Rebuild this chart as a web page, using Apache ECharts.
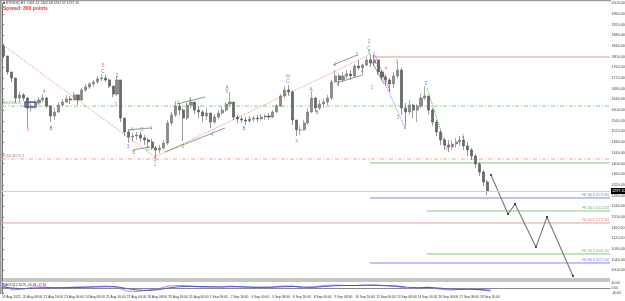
<!DOCTYPE html>
<html><head><meta charset="utf-8">
<script src="https://cdn.jsdelivr.net/npm/echarts@6/dist/echarts.min.js"></script>
<style>html,body{margin:0;padding:0;background:#fff}#c{width:625px;height:301px}</style>
</head><body><div id="c"></div>
<script>
// ---------- DATA (ETHUSD, 6-hour buckets from 19 Aug 2022 00:00) ----------
const firstOpen = 1840;
const highs = [1848,1795,1743,1720,1668,1664,1649,1627,1638,1649,
1660,1649,1619,1608,1630,1642,1657,1653,1668,1660,
1683,1698,1705,1713,1728,1735,1732,1717,1690,1728,
1713,1570,1526,1514,1518,1518,1507,1496,1492,1466,
1469,1488,1563,1593,1634,1627,1608,1630,1645,1630,
1615,1600,1608,1589,1585,1600,1612,1630,1668,1627,
1582,1578,1574,1578,1578,1582,1585,1585,1589,1600,
1623,1660,1690,1694,1675,1563,1541,1563,1608,1672,
1649,1638,1642,1657,1713,1750,1735,1743,1750,1750,
1773,1788,1773,1799,1810,1810,1788,1750,1735,1720,
1743,1780,1758,1627,1638,1623,1623,1660,1690,1653,
1608,1563,1526,1496,1488,1488,1496,1503,1503,1481,
1458,1436,1406,1376,1338];
const lows = [1795,1732,1705,1627,1630,1634,1537,1593,1604,1619,
1630,1608,1555,1563,1589,1612,1627,1623,1638,1619,
1634,1668,1679,1687,1698,1709,1705,1683,1649,1653,
1555,1503,1477,1481,1488,1481,1469,1458,1451,1424,
1439,1451,1469,1541,1574,1582,1484,1563,1608,1585,
1570,1555,1563,1533,1548,1567,1582,1593,1615,1563,
1552,1552,1544,1552,1555,1555,1559,1563,1563,1570,
1589,1612,1645,1653,1544,1503,1507,1522,1544,1589,
1593,1600,1608,1619,1638,1705,1690,1705,1717,1713,
1720,1750,1735,1765,1761,1765,1732,1713,1690,1668,
1683,1720,1582,1544,1582,1570,1555,1608,1638,1582,
1541,1503,1469,1451,1443,1451,1458,1466,1451,1428,
1413,1383,1353,1316,1282];
const closes = [1803,1743,1720,1645,1657,1645,1608,1615,1627,1638,
1645,1615,1578,1593,1619,1630,1642,1638,1657,1638,
1675,1687,1698,1705,1717,1720,1713,1690,1660,1713,
1570,1518,1499,1503,1507,1496,1488,1481,1458,1451,
1458,1477,1552,1582,1615,1600,1570,1619,1630,1600,
1593,1578,1589,1555,1574,1589,1600,1623,1630,1574,
1567,1563,1559,1567,1570,1567,1574,1578,1574,1593,
1615,1653,1675,1668,1563,1526,1526,1552,1593,1645,
1608,1623,1630,1645,1705,1728,1713,1728,1735,1728,
1765,1758,1769,1788,1776,1788,1743,1724,1713,1698,
1728,1750,1608,1593,1619,1600,1615,1645,1653,1600,
1555,1518,1488,1469,1462,1473,1481,1488,1466,1451,
1428,1398,1368,1331,1297.1];

const dateLabels = ['19 Aug 2022','20 Aug 08:00','21 Aug 16:00','23 Aug 00:00','24 Aug 08:00','25 Aug 16:00',
'27 Aug 00:00','28 Aug 08:00','29 Aug 16:00','31 Aug 00:00','1 Sep 08:00','2 Sep 16:00','4 Sep 00:00',
'5 Sep 08:00','6 Sep 16:00','8 Sep 00:00','9 Sep 08:00','10 Sep 16:00','12 Sep 00:00','13 Sep 08:00',
'14 Sep 16:00','16 Sep 00:00','17 Sep 08:00','18 Sep 16:00'];

// horizontal levels: [start hour, price, tag]
const levelStarts = [0, 0, 0, 571, 566.5, 654, 654, 566.5, 566.5];
const levelPrices = [1615.0, 1416.9, 1177.3, 1799.0, 1271.0, 1222.2, 1061.2, 1027.5, 1402.0];
const levelTags   = ['BHC', 'HCS', 'FE 100.0', '', 'FE 161.8', 'FE 100.0', 'FE 161.8', 'FE 261.8', ''];

// drawn lines (hour, price)
const zigzagLine = [[1.5,1844],[235.5,1424.4],[565,1806]];
const channelLines = [
  [[194,1526],[228,1533]], [[201.7,1451],[228,1462]],
  [[269.4,1623],[312.5,1649]], [[251,1443],[343.3,1533]],
  [[509.5,1769],[546.5,1806]], [[515.7,1702],[555.7,1732]],
  [[566.5,1795],[588,1698]]
];
const purpleDotLine = [[571,1803],[620.4,1533]];
const pinkLine = [[574.2,1806],[597.3,1675]];
const greenDotLine = [[654.2,1683],[685,1451]];
const projection = [[752.8,1357],[779,1211],[789.8,1248],[822,1087],[839,1200],[879,979]];
const boxCorners = [[35.4,1630],[52.3,1612]];

// wave labels: [hour, price, text, degree]
const waveLabels = [
  [40,1526,'5','r'],[155.5,1765,'5','r'],[235.5,1394,'1','r'],[440.3,1724,'W','r'],[454,1481,'X','r'],[565,1855,'2','r'],[709.7,1499,'2','r'],
  [64.7,1668,'4','b'],[75.4,1529,'B','b'],[155.5,1743,'C','b'],[177,1728,'2','b'],[175.5,1619,'1','b'],[194,1462,'3','b'],
  [229.4,1529,'4','b'],[235.5,1413,'5','b'],[346.4,1683,'A','b'],[372.5,1529,'B','b'],[440.3,1705,'C','b'],[475.7,1675,'A','b'],
  [485,1589,'B','b'],[565,1829,'C','b'],[620.4,1533,'3','b'],[652.7,1698,'2','b'],
  [200,1526,'A','g'],[215.5,1526,'C','g'],[203,1439,'B','g'],[224.7,1451,'D','g'],
  [271,1627,'1','g'],[278.6,1462,'2','g'],[289.4,1638,'3','g'],[323.3,1507,'4','g'],[346.4,1668,'5','g'],
  [512.6,1769,'1','g'],[517.2,1698,'2','g'],[546.5,1806,'3','g'],[554.2,1743,'4','g'],[565,1814,'5','g'],
  [608,1780,'3','g'],[615.8,1642,'4','g'],[609.6,1570,'2','g'],
  [569.6,1683,'1','m'],[572.7,1806,'2','m'],[591,1754,'4','m'],[595.8,1675,'3','m'],[686.6,1458,'1','m']
];

// oscillator (one value every 16 hours)
const oscStepHours = 16;
const oscFast = [24,-16,-8,8,8,0,4,8,8,12,16,8,-24,-28,-16,-8,16,20,16,8,8,8,16,8,4,4,8,16,16,0,8,20,24,20,20,24,24,16,12,-4,0,8,-8,-16,-12,-8,-16,-24];
const oscSlow = [8,0,-6,-2,2,2,2,4,6,8,10,10,-4,-16,-20,-14,0,10,14,12,10,8,10,10,8,6,6,10,12,8,6,12,18,20,20,22,22,20,16,6,2,4,0,-8,-10,-10,-12,-18];

// ---------- BUILD ----------
const NCAT = 156, HMAX = 936;
const cats = []; for (let i = 0; i < NCAT; i++) cats.push('c' + i);
const candles = closes.map((c, i) => {
  const o = i === 0 ? firstOpen : closes[i - 1];
  return [o, c, Math.min(lows[i], o, c), Math.max(highs[i], o, c)];
});
const lastPrice = closes[closes.length - 1];

const degColor = {r:'#f04848', b:'#4a4af0', g:'#3aa03a', m:'#e040d0'};
const levelStyle = [
  {color:'#7fcf7f', type:[4,2,1,2], w:1, text:'#666'},
  {color:'#f4a58a', type:[4,2,1,2], w:1, text:'#666'},
  {color:'#e8a0a0', type:'solid', w:1, text:'#d05a5a'},
  {color:'#e89090', type:'solid', w:1, text:'#d05a5a'},
  {color:'#8080ff', type:'solid', w:1, text:'#4f4fe0'},
  {color:'#80c880', type:'solid', w:1, text:'#3c9c3c'},
  {color:'#80c880', type:'solid', w:1, text:'#3c9c3c'},
  {color:'#8080ff', type:'solid', w:1, text:'#4f4fe0'},
  {color:'#80c880', type:'solid', w:1, text:'#3c9c3c'}
];

const FONT = 'Liberation Sans';
const series = [];

series.push({
  type:'candlestick', xAxisIndex:0, yAxisIndex:0, data:candles, barWidth:2.6,
  itemStyle:{color:'#8c8c8c', color0:'#6a6a6a', borderColor:'#6e6e6e', borderColor0:'#505050', borderWidth:0.6},
  markLine:{silent:true, symbol:'none', animation:false,
    lineStyle:{color:'#cfcfcf', type:'solid', width:1},
    label:{show:true, position:'end', distance:1, formatter:() => lastPrice.toFixed(2),
      backgroundColor:'#000', color:'#fff', fontSize:3.8, padding:[1,1], fontFamily:FONT},
    data:[{yAxis:lastPrice}]}
});

// level lines; their text tags are placed with a transparent scatter point at the line's end
const levelTagItems = [];
levelPrices.forEach((p, i) => {
  const st = levelStyle[i];
  const tag = levelTags[i];
  const full = levelStarts[i] === 0;
  if (tag && full && i < 2) {
    levelTagItems.push({value:[levelStarts[i], p],
      label:{show:true, position:'right', distance:0, offset:[0,-2.6], formatter: tag + '(' + p.toFixed(1) + ')' + (i===1?' 4':''),
        color:st.text, fontSize:3.3, fontFamily:FONT}});
  } else if (tag) {
    levelTagItems.push({value:[HMAX, p],
      label:{show:true, position:'left', distance:0, offset:[-1,-2.6], formatter: tag + ' (' + p.toFixed(2) + ')',
        color:st.text, fontSize:3.1, fontFamily:FONT}});
  }
  const s = {type:'line', xAxisIndex:1, yAxisIndex:0, data:[[levelStarts[i], p], [HMAX, p]], symbol:'none', silent:true,
    lineStyle:{color:st.color, type:st.type, width:st.w}, z:1};
  if (i === 0) {
    s.markArea = {silent:true, itemStyle:{color:'rgba(0,0,0,0)', borderColor:'#23308a', borderWidth:1.2},
      data:[[{coord:boxCorners[0]}, {coord:boxCorners[1]}]]};
  }
  series.push(s);
});
series.push({type:'scatter', xAxisIndex:1, yAxisIndex:0, symbolSize:0, silent:true, z:6,
  itemStyle:{color:'rgba(0,0,0,0)'}, data:levelTagItems});

function seg(pts, color, type, w) {
  series.push({type:'line', xAxisIndex:1, yAxisIndex:0, data:pts, symbol:'none', silent:true,
    lineStyle:{color, type, width:w}, z:2});
}
seg(zigzagLine, '#f09090', 'dotted', 1);
channelLines.forEach(l => seg(l, '#7a7a7a', 'solid', 0.8));
seg(purpleDotLine, '#8c7cff', 'dotted', 1);
seg(pinkLine, '#ff70c8', 'solid', 0.8);
seg(greenDotLine, '#40b040', 'dotted', 1);

series.push({type:'line', xAxisIndex:1, yAxisIndex:0, data:projection, silent:true,
  symbol:'circle', symbolSize:2.2, itemStyle:{color:'#333'},
  lineStyle:{color:'#777', width:1.1}, z:3});

series.push({type:'scatter', xAxisIndex:1, yAxisIndex:0, symbolSize:0, silent:true, z:5,
  data: waveLabels.map(w => ({value:[w[0], w[1]],
    label:{show:true, position:'inside', formatter:w[2], color:degColor[w[3]], fontSize:4.6, fontFamily:FONT}}))});

series.push({type:'line', xAxisIndex:2, yAxisIndex:1, symbol:'none', silent:true,
  data: oscFast.map((v, k) => [k * oscStepHours, v]), lineStyle:{color:'#b86cff', width:0.9},
  markLine:{silent:true, symbol:'none', animation:false, label:{show:false},
    lineStyle:{color:'#888', type:'dotted', width:0.8}, data:[{yAxis:0}]}});
series.push({type:'line', xAxisIndex:2, yAxisIndex:1, symbol:'none', silent:true,
  data: oscSlow.map((v, k) => [k * oscStepHours, v]), lineStyle:{color:'#3248c8', width:0.9}});

const option = {
  animation:false,
  backgroundColor:'#ffffff',
  textStyle:{fontFamily:FONT},
  grid:[
    {left:2, top:3.3, width:608, height:277.7, outerBoundsMode:'none', containLabel:false},
    {left:2, top:283, width:608, height:10, outerBoundsMode:'none', containLabel:false}
  ],
  xAxis:[
    {type:'category', gridIndex:0, data:cats, boundaryGap:true, show:false},
    {type:'value', gridIndex:0, min:0, max:HMAX, show:false},
    {type:'value', gridIndex:1, min:0, max:HMAX, interval:32,
      axisLine:{show:true, lineStyle:{color:'#888', width:1}}, axisTick:{show:false}, splitLine:{show:false},
      axisLabel:{show:true, align:'left', margin:2.5, fontSize:3.3, color:'#333', hideOverlap:false,
        formatter:(v) => { const k = Math.round(v / 32); return (Math.abs(v - 32 * k) < 0.01 && k < dateLabels.length) ? dateLabels[k] : ''; }}}
  ],
  yAxis:[
    {type:'value', gridIndex:0, position:'right', min:960, max:2000, interval:40, scale:false,
      axisLine:{show:true, lineStyle:{color:'#777', width:1}}, axisTick:{show:true, length:2, lineStyle:{color:'#777'}},
      splitLine:{show:false},
      axisLabel:{show:true, margin:1.5, fontSize:3.7, color:'#444', showMinLabel:false, hideOverlap:false,
        formatter:(v) => v.toFixed(2)}},
    {type:'value', gridIndex:1, position:'right', min:-40, max:40, interval:40,
      axisLine:{show:true, lineStyle:{color:'#777', width:1}}, axisTick:{show:true, length:2, lineStyle:{color:'#777'}},
      splitLine:{show:false},
      axisLabel:{show:true, margin:1.5, fontSize:3.4, color:'#444', hideOverlap:false, formatter:(v) => v.toFixed(2)}}
  ],
  graphic:[
    {type:'rect', shape:{x:0, y:278, width:610, height:4}, style:{fill:'#c6c6c6'}, silent:true, z:0},
    {type:'line', shape:{x1:0.8, y1:0, x2:0.8, y2:294}, style:{stroke:'#9a9a9a', lineWidth:1.6}, silent:true},
    {type:'line', shape:{x1:0, y1:0.6, x2:611, y2:0.6}, style:{stroke:'#9a9a9a', lineWidth:1.2}, silent:true},
    {type:'text', left:3, top:2, silent:true,
      style:{text:'\u25A0 ETHUSD,H1  1301.13 1302.48 1292.57 1297.10', fontSize:3.4, fill:'#333', fontFamily:FONT}},
    {type:'text', left:3, top:6, silent:true,
      style:{text:'Spread: 300 points', fontSize:5, fontWeight:'bold', fill:'#ff2a2a', fontFamily:FONT}},
    {type:'text', left:3, top:283.6, silent:true,
      style:{text:'MACD(12,26,9) -24.18 -17.62', fontSize:3.3, fill:'#333', fontFamily:FONT}}
  ],
  series
};
const chart = echarts.init(document.getElementById('c'), null, {renderer:'canvas'});
chart.setOption(option);
</script>
</body></html>
